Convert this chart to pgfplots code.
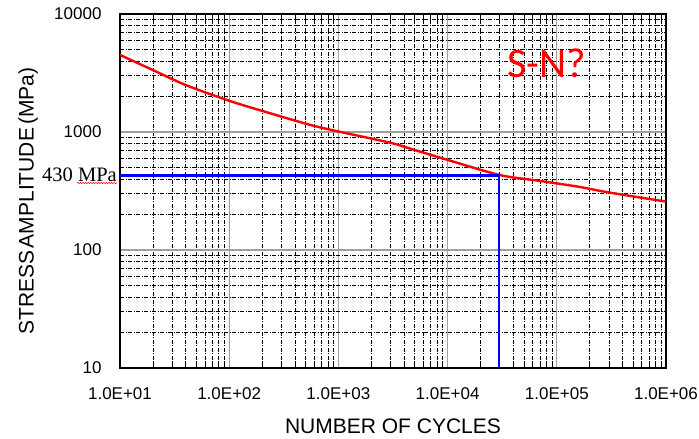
\documentclass[border=0pt]{standalone}
\usepackage{fontspec}
\setmainfont{Liberation Sans}
\newfontfamily\serifface{Liberation Serif}
\newfontfamily\calibface{Carlito}
\usepackage{pgfplots}
\pgfplotsset{compat=1.18}
\usetikzlibrary{decorations.pathmorphing}

\begin{document}
\begin{tikzpicture}
  \useasboundingbox (0,0) rectangle (699pt,439pt);
  \begin{axis}[
      at={(120pt,71pt)}, anchor=south west,
      scale only axis,
      width=546pt, height=354pt,
      xmode=log, ymode=log,
      xmin=10, xmax=1e6,
      ymin=10, ymax=10000,
      xtick={10,100,1000,10000,100000,1000000},
      xticklabels={1.0E+01,1.0E+02,1.0E+03,1.0E+04,1.0E+05,1.0E+06},
      minor xtick={20,30,40,50,60,70,80,90,200,300,400,500,600,700,800,900,
        2000,3000,4000,5000,6000,7000,8000,9000,20000,30000,40000,50000,60000,70000,80000,90000,
        200000,300000,400000,500000,600000,700000,800000,900000},
      ytick={10,100,1000,10000},
      yticklabels={10,100,1000,10000},
      minor ytick={20,30,40,50,60,70,80,90,200,300,400,500,600,700,800,900,
        2000,3000,4000,5000,6000,7000,8000,9000},
      tick align=inside,
      major tick length=0pt,
      minor tick length=7pt,
      ytick style={draw=none},
      xtick style={black, line width=0.6pt},
      grid=both,
      major grid style={draw=gray!75, line width=1.1pt, solid},
      minor grid style={draw=black, line width=0.6pt, dash pattern=on 4pt off 1.5pt on 1pt off 1.5pt},
      axis line style={black, line width=1.8pt},
      ticklabel style={font=\fontsize{17}{20}\selectfont},
      xticklabel style={anchor=north, yshift=-16pt},
      yticklabel style={anchor=east, xshift=-15pt},
      xlabel={NUMBER OF CYCLES},
      ylabel={STRESS\hspace{2pt}AMPLITUDE\hspace{3pt}(MPa)},
      label style={font=\fontsize{21}{24}\selectfont},
      xlabel style={at={(axis description cs:0.5,0)}, anchor=base, yshift=-66pt},
      ylabel style={at={(axis description cs:-0.168,0.472)}, anchor=center},
      clip=false,
  ]
  % S-N curve
  \addplot[red, line width=2.4pt, smooth] coordinates {
      (10,4500) (20,3350) (40,2500) (100,1840) (200,1510) (550,1150)
      (1000,1010) (3000,810) (4500,725) (10000,580) (30000,432)
      (70000,385) (160000,343) (290000,309) (1000000,257)
  };
  % 430 MPa read-off
  \addplot[blue, line width=2.6pt] coordinates {
      (10,430) (29500,430) (29500,10)
  };
  \node[anchor=east, inner sep=0pt, xshift=-3pt, font=\serifface\fontsize{20.5}{24}\selectfont]
      at (axis cs:10,430) {430 MPa};
  \node[text=red, font=\calibface\fontsize{42}{48}\selectfont]
      at (axis description cs:0.782,0.862) {S-N?};
  \end{axis}
  \draw[red, line width=0.5pt, decorate,
        decoration={snake, amplitude=0.7pt, segment length=2.6pt}]
      (77pt,256pt) -- (117pt,256pt);
\end{tikzpicture}
\end{document}
